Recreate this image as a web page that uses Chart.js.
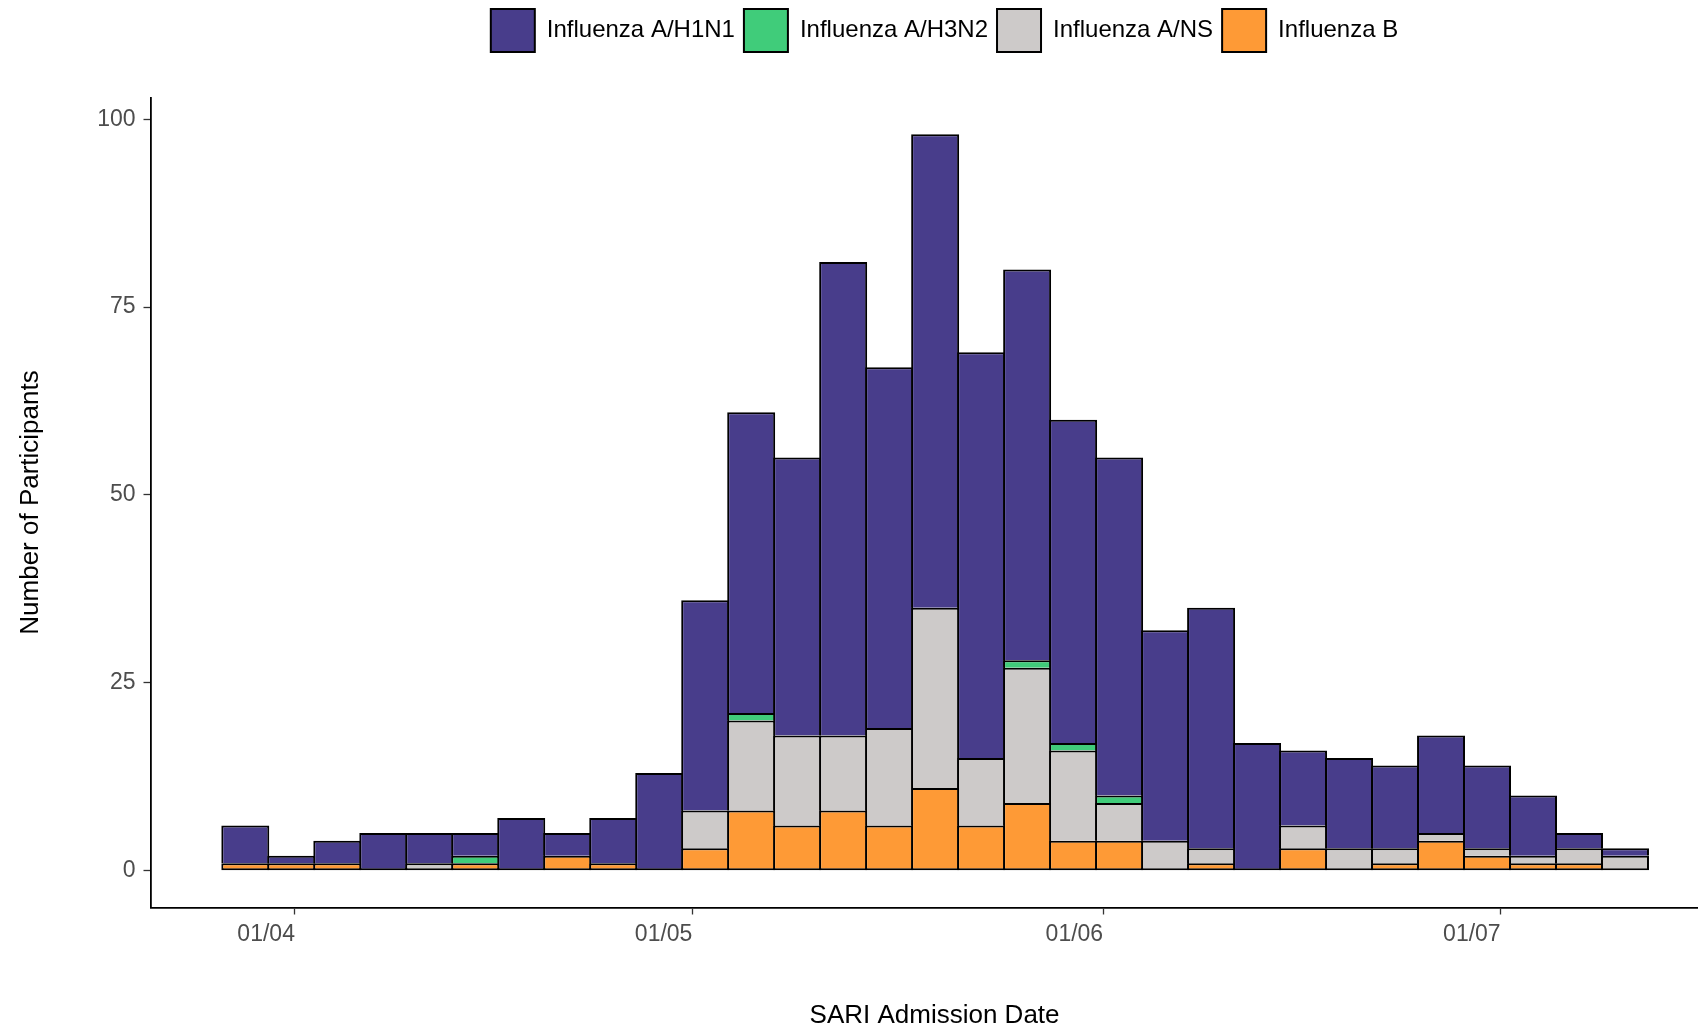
<!DOCTYPE html>
<html lang="en">
<head>
<meta charset="UTF-8">
<title>SARI admissions by influenza type</title>
<script src="https://cdn.jsdelivr.net/npm/chart.js"></script>
<style>
  body { margin: 0; background: #ffffff; }
  #wrap { width: 1698px; height: 1027px; overflow: hidden; }
</style>
</head>
<body>
<div id="wrap"><canvas id="fluChart" width="1889" height="1027"></canvas></div>
<script>
// bin centres in days after 1 April (histogram bins ~3.5 days wide)
const binDays = [-3.745, -0.274, 3.197, 6.668, 10.139, 13.610, 17.081, 20.552, 24.023, 27.494,
  30.965, 34.436, 37.907, 41.378, 44.849, 48.320, 51.791, 55.262, 58.733, 62.204,
  65.675, 69.146, 72.617, 76.088, 79.559, 83.030, 86.501, 89.972, 93.443, 96.914, 100.385];

const xTickDays = [0, 30, 61, 91];
const xTickLabels = ['01/04', '01/05', '01/06', '01/07'];
const yTicks = [0, 25, 50, 75, 100];

// counts per bin, bottom of the stack first
const fluB     = [1, 1, 1, 0, 0, 1, 0, 2, 1, 0, 3, 8, 6, 8, 6, 11, 6, 9, 4, 4, 0, 1, 0, 3, 0, 1, 4, 2, 1, 1, 0];
const fluANS   = [0, 0, 0, 0, 1, 0, 0, 0, 0, 0, 5, 12, 12, 10, 13, 24, 9, 18, 12, 5, 4, 2, 0, 3, 3, 2, 1, 1, 1, 2, 2];
const fluAH3N2 = [0, 0, 0, 0, 0, 1, 0, 0, 0, 0, 0, 1, 0, 0, 0, 0, 0, 1, 1, 1, 0, 0, 0, 0, 0, 0, 0, 0, 0, 0, 0];
const fluAH1N1 = [5, 1, 3, 5, 4, 3, 7, 3, 6, 13, 28, 40, 37, 63, 48, 63, 54, 52, 43, 45, 28, 32, 17, 10, 12, 11, 13, 11, 8, 2, 1];

const stackOrder = [fluB, fluANS, fluAH3N2, fluAH1N1];

function points(values) {
  return values.map((v, i) => ({ x: binDays[i], y: v }));
}

// only draw the bottom edge when nothing sits below this segment
function skipBottom(ctx) {
  if (ctx.dataIndex === undefined) return false;
  const below = stackOrder.slice(0, ctx.datasetIndex).some(s => s[ctx.dataIndex] > 0);
  return below ? 'start' : false;
}

Chart.defaults.font.family = "'Liberation Sans', Arial, sans-serif";
Chart.defaults.color = '#000000';

const common = {
  borderColor: '#000000',
  borderWidth: 2,
  borderSkipped: skipBottom,
  barPercentage: 1.0435,
  categoryPercentage: 1
};

const ctx = document.getElementById('fluChart').getContext('2d');
const chart = new Chart(ctx, {
  type: 'bar',
  data: {
    datasets: [
      { label: 'Influenza B', data: points(fluB), backgroundColor: '#FE9A36', ...common },
      { label: 'Influenza A/NS', data: points(fluANS), backgroundColor: '#CDCAC9', ...common },
      { label: 'Influenza A/H3N2', data: points(fluAH3N2), backgroundColor: '#40CC7A', ...common },
      { label: 'Influenza A/H1N1', data: points(fluAH1N1), backgroundColor: '#483D8B', ...common }
    ]
  },
  options: {
    responsive: false,
    animation: false,
    layout: { padding: 0 },
    plugins: {
      tooltip: { enabled: false },
      legend: {
        position: 'top',
        weight: 3000,
        reverse: true,
        labels: {
          boxWidth: 44,
          boxHeight: 43,
          padding: 9,
          color: '#000000',
          font: { size: 24 }
        }
      },
      // empty title used as the gap between legend and panel
      title: {
        display: true,
        text: '',
        padding: 0,
        font: { size: 35.5, lineHeight: 1 }
      }
    },
    scales: {
      x: {
        type: 'linear',
        stacked: true,
        offset: false,
        min: -10.9,
        max: 107.45,
        afterBuildTicks: s => { s.ticks = xTickDays.map(v => ({ value: v })); },
        afterFit: s => { s.height = 119.5; },
        grid: { drawOnChartArea: false, drawTicks: true, tickLength: 7, color: '#333333', tickWidth: 1.3, offset: false },
        border: { display: true, color: '#000000', width: 1.8 },
        ticks: {
          autoSkip: false,
          maxRotation: 0,
          align: 'end',
          padding: 6,
          color: '#4D4D4D',
          font: { size: 23 },
          callback: (v, i) => xTickLabels[i]
        },
        title: {
          display: true,
          text: 'SARI Admission Date',
          color: '#000000',
          font: { size: 26, lineHeight: 0.85 },
          padding: { top: 0, bottom: 0 }
        }
      },
      y: {
        stacked: true,
        min: -4.9,
        max: 102.9,
        afterBuildTicks: s => { s.ticks = yTicks.map(v => ({ value: v })); },
        afterFit: s => { s.width = 150.5; },
        grid: { drawOnChartArea: false, drawTicks: true, tickLength: 7, color: '#333333', tickWidth: 1.3 },
        border: { display: true, color: '#000000', width: 1.8 },
        ticks: {
          padding: 8,
          color: '#4D4D4D',
          font: { size: 23 }
        },
        title: {
          display: true,
          text: 'Number of Participants',
          color: '#000000',
          font: { size: 26, lineHeight: 1 },
          padding: { top: 18, bottom: 0 }
        }
      },
      // blank axis on the right: the panel runs past the visible edge
      pad: {
        type: 'linear',
        position: 'right',
        display: true,
        afterFit: s => { s.width = 170.4; },
        grid: { display: false },
        border: { display: false },
        ticks: { display: false }
      }
    }
  }
});
</script>
</body>
</html>
